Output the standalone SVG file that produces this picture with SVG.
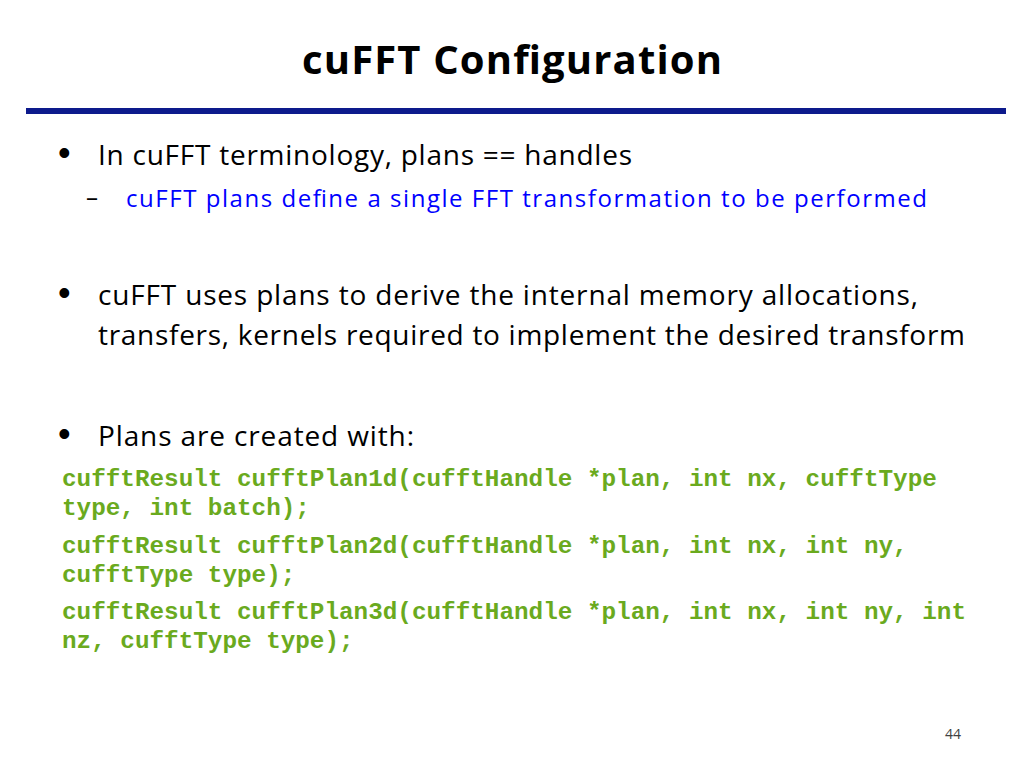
<svg xmlns="http://www.w3.org/2000/svg" width="1024" height="768" viewBox="0 0 1024 768">
<style>
.t{font-family:"Open Sans","Liberation Sans",sans-serif;fill:#000}
.b{font-family:"Liberation Sans",sans-serif;font-size:36px;fill:#000}
.c{font-family:"Liberation Mono",monospace;font-weight:bold;font-size:24.3px;fill:#6aaa1e}
</style>
<rect width="1024" height="768" fill="#fff"/>
<text class="t" x="512" y="74" text-anchor="middle" font-size="40" font-weight="bold" textLength="420">cuFFT Configuration</text>
<rect x="26" y="108" width="980" height="6" fill="#0d1a8c"/>
<g class="b">
<text x="58" y="165">•</text>
<text x="58" y="305">•</text>
<text x="58" y="446">•</text>
</g>
<g class="t" font-size="28">
<text x="98" y="165" textLength="534">In cuFFT terminology, plans == handles</text>
<text x="98" y="305" textLength="820">cuFFT uses plans to derive the internal memory allocations,</text>
<text x="98" y="345" textLength="867">transfers, kernels required to implement the desired transform</text>
<text x="98" y="446" textLength="316">Plans are created with:</text>
</g>
<text class="t" x="86" y="206" font-size="24">–</text>
<text class="t" x="126" y="207" font-size="24" style="fill:#0000ff" textLength="801">cuFFT plans define a single FFT transformation to be performed</text>
<g class="c">
<text x="62" y="486">cufftResult cufftPlan1d(cufftHandle *plan, int nx, cufftType</text>
<text x="62" y="515">type, int batch);</text>
<text x="62" y="553">cufftResult cufftPlan2d(cufftHandle *plan, int nx, int ny,</text>
<text x="62" y="582">cufftType type);</text>
<text x="62" y="619">cufftResult cufftPlan3d(cufftHandle *plan, int nx, int ny, int</text>
<text x="62" y="648">nz, cufftType type);</text>
</g>
<text class="t" x="953" y="739" font-size="14" text-anchor="middle" style="fill:#404040">44</text>
</svg>
